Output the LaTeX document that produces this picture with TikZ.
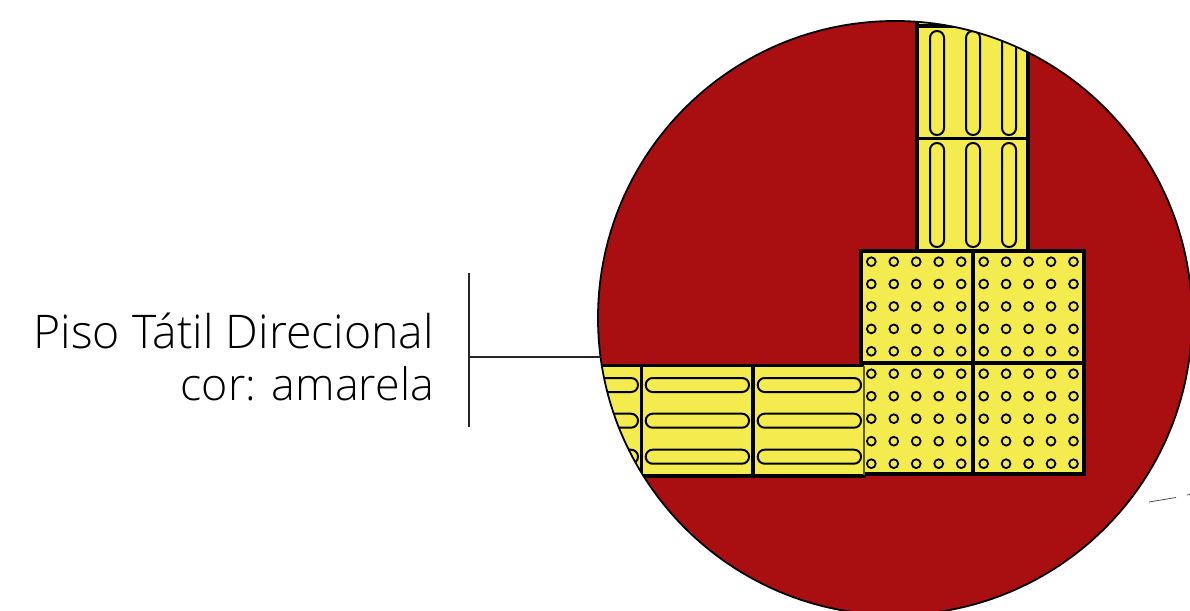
\documentclass[tikz,border=0pt]{standalone}
\usepackage{fontspec}
\setmainfont{Open Sans Light}
\definecolor{piso}{HTML}{F4EC4E}
\definecolor{fundo}{HTML}{A90F10}
\tikzset{
  x=1pt,y=-1pt,
  ridge/.style={draw=black,line width=2pt,rounded corners=6.9pt},
  dotmark/.style={draw=black,line width=1.8pt},
  tileedge/.style={draw=black,line width=3.4pt},
  leader/.style={draw=black!85,line width=1.4pt},
  lbl/.style={inner sep=0pt,anchor=base east,text=black}
}
\begin{document}
\begin{tikzpicture}
\useasboundingbox (0,0) rectangle (1190,610);
\coordinate (c) at (895,318);
\fill[fundo] (c) circle[radius=297];
\begin{scope}
\clip (c) circle[radius=297];
% vertical directional tiles
\fill[piso] (917,15) rectangle (1028,250);
\draw[tileedge] (917,15) -- (917,250) (1028,15) -- (1028,250) (917,26) -- (1028,26) (917,138.5) -- (1028,138.5);
\foreach \x in {937,973,1009}{
  \draw[ridge] (\x-7,31) rectangle (\x+7,135);
  \draw[ridge] (\x-7,143) rectangle (\x+7,247);
}
% horizontal directional tiles
\fill[piso] (590,365.5) rectangle (864,476);
\draw[tileedge] (590,365.5) -- (864,365.5) (590,476) -- (866,476) (641.7,365.5) -- (641.7,476);
\draw[draw=black,line width=4pt] (753.3,365.5) -- (753.3,476);
\foreach \y in {385,420.7,456.7}{
  \draw[ridge] (530,\y-7) rectangle (638,\y+7);
  \draw[ridge] (645.7,\y-7) rectangle (749,\y+7);
  \draw[ridge] (757.7,\y-7) rectangle (861,\y+7);
}
% dotted tiles
\fill[piso] (864,251) rectangle (1084,474);
\fill[piso] (861,251) rectangle (1084,363);
\draw[tileedge] (861,251) rectangle (1084,363);
\draw[tileedge] (864,474) -- (1084,474) -- (1084,363);
\draw[draw=black,line width=4pt] (972.5,251) -- (972.5,474);
\draw[draw=black!60!piso,line width=2pt] (864,366) -- (864,475);
\foreach \x in {871.3,893.8,916.2,938.7,961.2,983.7,1006.1,1028.6,1051,1073.5}{
  \foreach \y in {261.7,284,306.4,328.9,351.3,373.7,396.2,418.7,441.2,463.7}{
    \draw[dotmark] (\x,\y) circle[radius=4.4];
  }
}
\end{scope}
\draw[black,line width=1.8pt] (c) circle[radius=297];
% leader
\coordinate (lt) at (469,273);
\coordinate (lb) at (469,427);
\coordinate (lm) at (469,357);
\coordinate (le) at (601,357);
\draw[leader] (lt) -- (lb);
\draw[leader] (lm) -- (le);
\coordinate (s1) at (1149,502);
\coordinate (s2) at (1176,497.5);
\coordinate (s3) at (1187,495);
\coordinate (s4) at (1190,494.5);
\draw[black!70,line width=.8pt] (s1) -- (s2) (s3) -- (s4);
\node[lbl,font=\fontsize{46.4}{46}\selectfont] (t1) at (434,348) {Piso Tátil Direcional};
\node[lbl,font=\fontsize{44.8}{46}\selectfont] (t2) at (434,400) {cor: amarela};
\end{tikzpicture}
\end{document}
